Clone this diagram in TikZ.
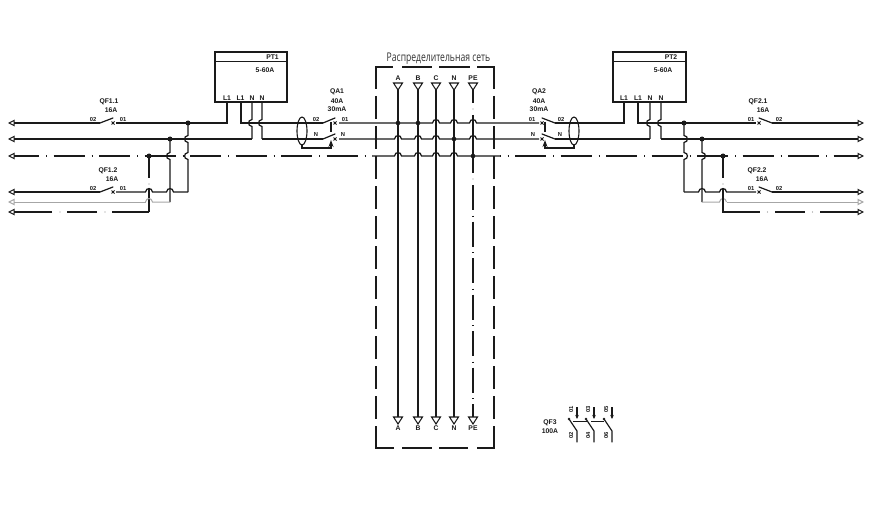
\documentclass[tikz,border=0pt]{standalone}
\usepackage{fontspec}
\setmainfont{Liberation Sans}
\newfontfamily\titlefont{Open Sans}
\usetikzlibrary{arrows.meta,calc}
\definecolor{ink}{HTML}{1A1A1A}
\tikzset{
  wire/.style={draw=ink,line width=1.25pt},
  greywire/.style={draw=black!35,line width=1pt},
  dd/.style={draw=ink,line width=1.2pt,dash pattern=on 31pt off 7pt on 0.8pt off 6.7pt},
  ddv/.style={draw=ink,line width=1.2pt,dash pattern=on 25pt off 5.5pt on 0.8pt off 5.2pt},
  frame/.style={draw=ink,line width=1.25pt},
  devbox/.style={draw=ink,line width=1.4pt},
  lab/.style={inner sep=0pt,text=ink,font=\fontsize{6.8}{7}\selectfont\bfseries},
  tiny/.style={inner sep=0pt,text=ink,font=\fontsize{5.8}{6}\selectfont\bfseries},
  term/.style={-{Triangle[open,length=6.5pt,width=6.5pt,line width=1pt]}},
  dotn/.style={circle,fill=ink,inner sep=0pt,minimum size=5pt},
  blade/.style={draw=ink,line width=1.2pt,line cap=round},
}
\newcommand\hwire[5][wire]{\draw[#1] (#2) foreach \h in {#5} { -- ({\h-3.5},#4) .. controls ({\h-3},{#4-4.6}) and ({\h+3},{#4-4.6}) .. ({\h+3.5},#4) } -- (#3);}
\newcommand\vwire[6][wire]{\draw[#1] (#2) foreach \h in {#6} { -- (#4,{\h-3.5}) .. controls ({#4+#5*4.6},{\h-3}) and ({#4+#5*4.6},{\h+3}) .. (#4,{\h+3.5}) } -- (#3);}
\newcommand\contact[3]{% fixed x, pivot x, y
  \draw[blade] (#2,#3) -- (#1,{#3-5});
  \draw[ink,line width=0.8pt] ({#1-1.5},{#3-1.5}) -- ({#1+1.5},{#3+1.5}) ({#1-1.5},{#3+1.5}) -- ({#1+1.5},{#3-1.5});}
\newcommand\busterm[3]{%
  \coordinate (top#1) at (#2,90);
  \coordinate (bot#1) at (#2,417);
  \node[lab] (ltop#1) at (#2,78) {#3};
  \node[lab] (lbot#1) at (#2,428) {#3};
  \draw[ink,line width=1.05pt] (#2,83) ++(-4.5,0) -- ++(9,0) -- (#2,90) -- cycle;
  \draw[ink,line width=1.05pt] (#2,417) ++(-4.5,0) -- ++(9,0) -- (#2,424) -- cycle;}
\newcommand\pole[4]{%
  \draw[ink,line width=1.2pt,-{Stealth[length=4pt,width=3.5pt]}] (#1,407) -- (#1,419);
  \draw[blade] ({#1-8},419) -- (#1,431) -- (#1,442);
  \fill[ink] ({#1-8},419) circle (1.4pt);
  \node[tiny,rotate=90] (pt#4) at ({#1-6},#2) {#3};}
\begin{document}
\begin{tikzpicture}[x=1pt,y=-1pt]
\useasboundingbox (0,0) rectangle (877,505);
\fill[white] (0,0) rectangle (877,505);

% ---- named points
\foreach \n/\y in {1/123,2/139,3/156,4/192,5/202,6/212}{
  \coordinate (TL\n) at (8,\y);
  \coordinate (TR\n) at (864,\y);
}
\coordinate (J1) at (188,123); \coordinate (J2) at (170,139); \coordinate (J3) at (149,156);
\coordinate (J4) at (684,123); \coordinate (J5) at (702,139); \coordinate (J6) at (723,156);

% ---- devices
\node[devbox,minimum width=72pt,minimum height=50pt,inner sep=0pt] (PT1) at (251,77) {};
\draw[devbox,line width=1pt] (215,62) -- (287,62);
\node[lab] (PT1n) at (272.5,57.5) {PT1};
\node[lab] (PT1r) at (265,70) {5-60A};
\node[devbox,minimum width=73pt,minimum height=50pt,inner sep=0pt] (PT2) at (649.5,77) {};
\draw[devbox,line width=1pt] (613,62) -- (686,62);
\node[lab] (PT2n) at (671,57.5) {PT2};
\node[lab] (PT2r) at (663,70) {5-60A};

\foreach \n/\x/\t in {a/227/L1,b/240.5/L1,c/252/N,d/262/N}{\node[lab] (p1\n) at (\x,98) {\t};}
\foreach \n/\x/\t in {a/624/L1,b/638/L1,c/650/N,d/661/N}{\node[lab] (p2\n) at (\x,98) {\t};}
\coordinate (A1a) at (227,102); \coordinate (A1b) at (241,102); \coordinate (A1c) at (252,102); \coordinate (A1d) at (262,102);
\coordinate (A2a) at (624,102); \coordinate (A2b) at (638,102); \coordinate (A2c) at (650,102); \coordinate (A2d) at (661,102);

% ---- left feeders
\draw[wire,term] (100,123) -- (TL1);
\draw[wire] (116,123) -- (J1) -- (227,123) -- (A1a);
\contact{113}{100}{123}
\draw[wire,term] (252,139) -- (TL2);
\vwire{A1c}{252,139}{252}{-1}{123}
\draw[dd,dash phase=7pt] (15,156) -- (372,156);
\draw[wire,term] (20,156) -- (TL3);
% lower left
\draw[wire,term] (100,192) -- (TL4);
\contact{113}{100}{192}
\hwire{116,192}{188,192}{192}{149,170}
\vwire{J1}{188,192}{188}{-1}{139,156}
\vwire{J2}{170,202}{170}{-1}{156}
\draw[wire] (149,156) -- (149,178);
\fill[black!45] (149,184) circle (0.6pt);
\draw[wire] (149,189) -- (149,212);
\draw[greywire,term] (145.5,202) -- (TL5);
\draw[greywire] (145.5,202) .. controls (146,197.4) and (152,197.4) .. (152.5,202) -- (170,202);
\draw[wire] (149,212) -- (112,212);
\draw[wire] (97,212) -- (67,212);
\draw[wire,term] (52,212) -- (TL6);
\fill[black!45] (105,212) circle (0.6pt) (60,212) circle (0.6pt);

% ---- left QA1
\vwire{A1d}{262,139}{262}{-1}{123}
\draw[wire] (A1b) -- (241,123) -- (323,123);
\draw[wire] (262,139) -- (323,139);
\contact{335}{323}{123}
\contact{335}{323}{139}
\draw[ink,line width=1.1pt] (302,131) ellipse (5pt and 14pt);
\draw[ink,line width=1.4pt] (331,122) -- (331,132);
\draw[wire,-{Stealth[length=7pt,width=5pt]}] (302,145) -- (302,148) -- (331,148) -- (331,140);
\node[lab] at (337,92) (qa1a) {QA1};
\node[lab] at (337,101) (qa1b) {40A};
\node[lab] at (337,109) (qa1c) {30mA};
\node[tiny] (qa1d) at (316,120) {02};
\node[tiny] (qa1e) at (345,120) {01};
\node[tiny] (qa1f) at (316,135) {N};
\node[tiny] (qa1g) at (343,135) {N};

% ---- centre
\hwire{339,123}{539,123}{123}{436,454,473}
\hwire{339,139}{539,139}{139}{398,418,436,473}
\hwire{372,156}{500,156}{156}{398,418,436,454}
\busterm{A}{398}{A}
\busterm{B}{418}{B}
\busterm{C}{436}{C}
\busterm{N}{454}{N}
\busterm{PE}{473}{PE}
\draw[wire] (topA) -- (botA);
\draw[wire] (topB) -- (botB);
\draw[wire] (topC) -- (botC);
\draw[wire] (topN) -- (botN);
\draw[wire] (topPE) -- (473,103);
\fill[black!45] (473,109) circle (0.6pt);
\draw[wire] (473,115) -- (473,173);
\fill[black!45] (473,179) circle (0.6pt);
\draw[ddv] (473,185) -- (botPE);
\foreach \x/\y in {398/123,418/123,454/139,473/156}{\fill[ink] (\x,\y) circle (2.3pt);}
% network frame
\draw[frame] (376,89) -- (376,67) -- (393,67);
\draw[frame] (494,89) -- (494,67) -- (477,67);
\draw[frame] (402,67) -- (432,67) (439,67) -- (470,67);
\foreach \y in {96,126,156,186,216,246,276,306,336,366,396}{
  \draw[frame] (376,\y) -- (376,\y+23);
  \draw[frame] (494,\y) -- (494,\y+23);
}
\draw[frame] (376,426) -- (376,448) -- (394,448);
\draw[frame] (494,426) -- (494,448) -- (477,448);
\draw[frame] (402,448) -- (432,448) (439,448) -- (468,448);
\node[inner sep=0pt,text=black!80] (net) at (438.5,59) {\titlefont\fontsize{10}{11}\selectfont\scalebox{0.86}[1.2]{Распределительная сеть}};

% ---- right QA2
\contact{542}{555}{123}
\contact{542}{555}{139}
\draw[wire] (555,123) -- (624,123) -- (A2a);
\draw[wire] (555,139) -- (650,139);
\vwire{A2c}{650,139}{650}{-1}{123}
\draw[ink,line width=1.1pt] (574,131) ellipse (5pt and 14pt);
\draw[ink,line width=1.4pt] (545,122) -- (545,132);
\draw[wire,-{Stealth[length=7pt,width=5pt]}] (574,145) -- (574,148) -- (545,148) -- (545,140);
\node[lab] at (539,92) (qa2a) {QA2};
\node[lab] at (539,101) (qa2b) {40A};
\node[lab] at (539,109) (qa2c) {30mA};
\node[tiny] (qa2d) at (532,120) {01};
\node[tiny] (qa2e) at (561,120) {02};
\node[tiny] (qa2f) at (533,135) {N};
\node[tiny] (qa2g) at (560,135) {N};

% ---- right feeders
\draw[wire] (A2b) -- (638,123) -- (J4) -- (756,123);
\contact{759}{772}{123}
\draw[wire,term] (772,123) -- (TR1);
\vwire{A2d}{661,139}{661}{-1}{123}
\draw[wire,term] (661,139) -- (TR2);
\draw[dd,dash phase=30.5pt] (500,156) -- (857,156);
\draw[wire,term] (852,156) -- (TR3);
\vwire{J4}{684,192}{684}{1}{139,156}
\vwire{J5}{702,202}{702}{1}{156}
\hwire{684,192}{756,192}{192}{702,723}
\contact{759}{772}{192}
\draw[wire,term] (772,192) -- (TR4);
\draw[greywire] (702,202) -- (719.5,202) .. controls (720,197.4) and (726,197.4) .. (726.5,202);
\draw[greywire,term] (726.5,202) -- (TR5);
\draw[wire] (723,156) -- (723,178);
\fill[black!45] (723,184) circle (0.6pt);
\draw[wire] (723,189) -- (723,212) -- (760,212);
\draw[wire] (775,212) -- (805,212);
\draw[wire,term] (820,212) -- (TR6);
\fill[black!45] (767.5,212) circle (0.6pt) (812.5,212) circle (0.6pt);

% ---- junction dots
\foreach \c in {J1,J2,J3,J4,J5,J6}{\node[dotn] at (\c) {};}

% ---- breaker labels
\node[lab] (q11) at (109,102) {QF1.1};
\node[lab] (q11b) at (111,110) {16A};
\node[tiny] (q11c) at (93,120) {02};
\node[tiny] (q11d) at (123,120) {01};
\node[lab] (q12) at (108,171) {QF1.2};
\node[lab] (q12b) at (112,179) {16A};
\node[tiny] (q12c) at (93,189) {02};
\node[tiny] (q12d) at (123,189) {01};
\node[lab] (q21) at (758,102) {QF2.1};
\node[lab] (q21b) at (763,110) {16A};
\node[tiny] (q21c) at (751,120) {01};
\node[tiny] (q21d) at (779,120) {02};
\node[lab] (q22) at (757,171) {QF2.2};
\node[lab] (q22b) at (762,179) {16A};
\node[tiny] (q22c) at (751,189) {01};
\node[tiny] (q22d) at (779,189) {02};

% ---- QF3
\node[lab] (qf3) at (550,423) {QF3};
\node[lab] (qf3b) at (550,431) {100A};
\pole{577}{409}{01}{a1}
\pole{594}{409}{03}{b1}
\pole{612}{409}{05}{c1}
\node[tiny,rotate=90] (lo1) at (571,435) {02};
\node[tiny,rotate=90] (lo2) at (588,435) {04};
\node[tiny,rotate=90] (lo3) at (606,435) {06};
\draw[ink,line width=1pt] (573,421) -- (587,421) (591,421) -- (604,421);
\end{tikzpicture}
\end{document}
